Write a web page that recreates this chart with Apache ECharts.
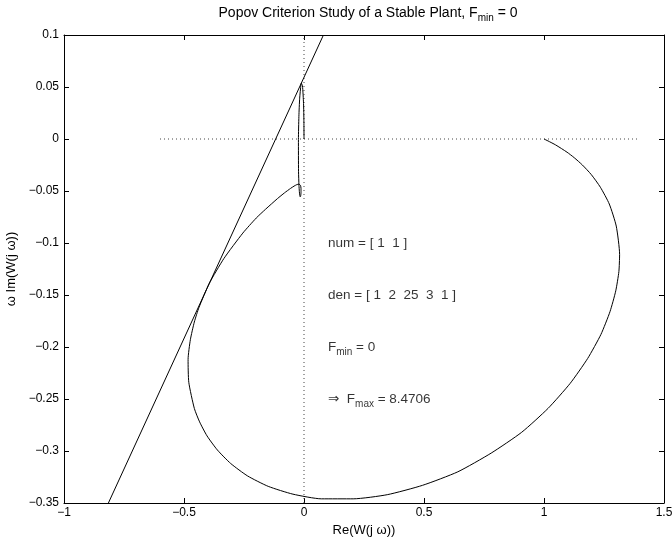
<!DOCTYPE html>
<html>
<head>
<meta charset="utf-8">
<script src="https://cdn.jsdelivr.net/npm/echarts@6.0.0/dist/echarts.min.js"></script>
<style>
  html, body { margin: 0; padding: 0; background: #fff; }
  #chart { width: 672px; height: 539px; }
</style>
</head>
<body>
<div id="chart"></div>
<script>
// Popov plot: Re(W(jw)) against w*Im(W(jw))
const reW = [1, 1.017, 1.0485, 1.096, 1.126, 1.16, 1.197, 1.235, 1.272, 1.301, 1.315, 1.312, 1.299,
  1.275, 1.237, 1.182, 1.109, 1.017, 0.907, 0.78, 0.641, 0.494, 0.347, 0.205, 0.0725, -0.046,
  -0.149, -0.235, -0.3055, -0.361, -0.404, -0.435, -0.457, -0.48, -0.483, -0.4735, -0.457,
  -0.4376, -0.395, -0.334, -0.255, -0.199, -0.16, -0.1105, -0.0813, -0.056, -0.0415, -0.0302,
  -0.0212, -0.0147, -0.0125, -0.0124, -0.0141, -0.0161, -0.0179, -0.0194, -0.021, -0.0228,
  -0.0232, -0.0213, -0.018, -0.0126, -0.011, -0.0084, -0.0063, -0.0019, -0.0008, -0.0002, 0, 0];
const wImW = [0, -0.0019, -0.0057, -0.0127, -0.018, -0.025, -0.0342, -0.0464, -0.0625, -0.0837,
  -0.111, -0.1275, -0.146, -0.166, -0.188, -0.211, -0.235, -0.259, -0.282, -0.302, -0.32, -0.333,
  -0.342, -0.346, -0.346, -0.3415, -0.334, -0.324, -0.312, -0.299, -0.2855, -0.272, -0.259,
  -0.234, -0.212, -0.193, -0.176, -0.162, -0.139, -0.115, -0.0905, -0.076, -0.0675, -0.0573,
  -0.0518, -0.0475, -0.0453, -0.0439, -0.0434, -0.0446, -0.0474, -0.0513, -0.0551, -0.0556,
  -0.0538, -0.0504, -0.0444, -0.0311, -0.0006, 0.0217, 0.0393, 0.0524, 0.0537, 0.0534, 0.051,
  0.0341, 0.0232, 0.0128, 0.0027, 0];

// Popov line through -1/Fmax
const lineX = [-0.815, 0.081];
const lineY = [-0.35, 0.1];

// dotted zero lines
const hZeroX = [-0.6, 1.4];
const vZeroY = [-0.35, 0.1];

const xTicks = [-1, -0.5, 0, 0.5, 1, 1.5];
const yTicks = [-0.35, -0.3, -0.25, -0.2, -0.15, -0.1, -0.05, 0, 0.05, 0.1];

const noteX = 0.1;
const noteY = [-0.1, -0.15, -0.2, -0.25];
const notes = ['num = [ 1  1 ]', 'den = [ 1  2  25  3  1 ]', 'F{s|min} = 0', '\u21D2  F{s|max} = 8.4706'];

const font = '"Liberation Sans", "DejaVu Sans", Arial, sans-serif';
const sub = size => ({ s: { fontSize: size, fontFamily: font, color: '#000', verticalAlign: 'bottom', lineHeight: 20 } });
const fmt = v => {
  const r = +(+v).toFixed(2);
  return r === 0 ? '0' : String(r).replace('-', '\u2212');
};

const chart = echarts.init(document.getElementById('chart'));

const xBase = {
  type: 'value', min: xTicks[0], max: xTicks[xTicks.length - 1], interval: 0.5,
  axisLine: { show: true, onZero: false, lineStyle: { color: '#000', width: 1 } },
  axisTick: { show: true, inside: true, length: 5, lineStyle: { color: '#000' } },
  splitLine: { show: false }
};
const yBase = {
  type: 'value', min: yTicks[0], max: yTicks[yTicks.length - 1], interval: 0.05,
  axisLine: { show: true, onZero: false, lineStyle: { color: '#000', width: 1 } },
  axisTick: { show: true, inside: true, length: 5, lineStyle: { color: '#000' } },
  splitLine: { show: false }
};

chart.setOption({
  animation: false,
  backgroundColor: '#fff',
  title: {
    text: 'Popov Criterion Study of a Stable Plant, F{s|min} = 0',
    left: 368, textAlign: 'center', top: 3, padding: 0,
    textStyle: { fontSize: 14, fontWeight: 'normal', color: '#000', fontFamily: font, lineHeight: 20, rich: sub(10) }
  },
  grid: { left: 64, right: 8, top: 35, bottom: 36, containLabel: false, outerBoundsMode: 'none' },
  xAxis: [
    Object.assign({}, xBase, {
      position: 'bottom',
      name: 'Re(W(j \u03C9))', nameLocation: 'middle', nameGap: 15,
      nameTextStyle: { fontSize: 13, color: '#000', fontFamily: font },
      axisLabel: { show: true, fontSize: 12, color: '#000', fontFamily: font, margin: 4, formatter: fmt }
    }),
    Object.assign({}, xBase, { position: 'top', axisLabel: { show: false } })
  ],
  yAxis: [
    Object.assign({}, yBase, {
      position: 'left',
      name: '\u03C9 Im(W(j \u03C9))', nameLocation: 'middle', nameGap: 41,
      nameTextStyle: { fontSize: 13, color: '#000', fontFamily: font },
      axisLabel: { show: true, fontSize: 12, color: '#000', fontFamily: font, margin: 5, formatter: fmt }
    }),
    Object.assign({}, yBase, { position: 'right', axisLabel: { show: false } })
  ],
  series: [
    {
      type: 'line', showSymbol: false, silent: true,
      lineStyle: { color: '#444', width: 1, type: [1, 3] },
      data: hZeroX.map(x => [x, 0])
    },
    {
      type: 'line', showSymbol: false, silent: true,
      lineStyle: { color: '#444', width: 1, type: [1, 3] },
      data: vZeroY.map(y => [0, y])
    },
    {
      type: 'line', showSymbol: false, silent: true,
      lineStyle: { color: '#000', width: 1 },
      data: lineX.map((x, i) => [x, lineY[i]])
    },
    {
      type: 'line', showSymbol: false, silent: true, smooth: 0.2,
      lineStyle: { color: '#000', width: 1 },
      data: reW.map((x, i) => [x, wImW[i]])
    },
    {
      type: 'scatter', symbolSize: 0, silent: true,
      label: {
        show: true, position: 'right', distance: 0,
        fontSize: 13.5, color: '#000', fontFamily: font, lineHeight: 20, rich: sub(10)
      },
      data: noteY.map((y, i) => ({ value: [noteX, y], label: { formatter: notes[i] } }))
    }
  ]
});
</script>
</body>
</html>
